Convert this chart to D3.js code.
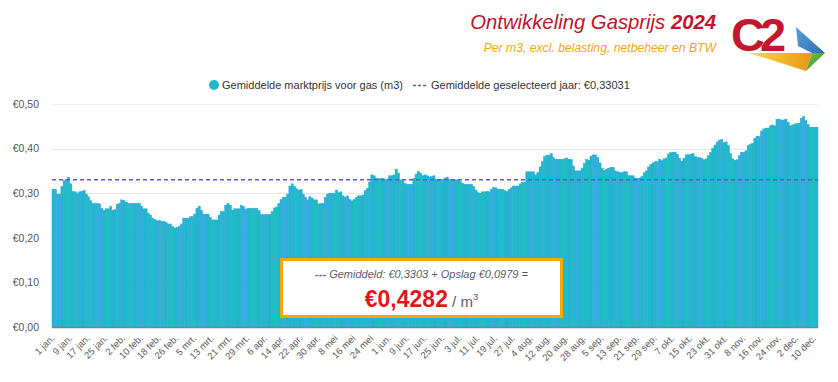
<!DOCTYPE html>
<html>
<head>
<meta charset="utf-8">
<script src="https://cdn.jsdelivr.net/npm/d3@7"></script>
<style>
  html, body { margin: 0; padding: 0; background: #ffffff; }
  svg { display: block; }
  text { font-family: "Liberation Sans", Arial, sans-serif; }
</style>
</head>
<body>
<svg id="chart" width="838" height="382"></svg>
<script>
// ---------- DATA ----------
const seriesName = "Gemiddelde marktprijs voor gas (m3)";
const averageName = "Gemiddelde geselecteerd jaar: €0,33031";
const averageValue = 0.33031;

// daily average market price for gas (€/m3), 1 jan – 11 dec 2024
const prices = [
  0.309,0.309,0.298,0.298,0.315,0.328,0.331,0.336,0.321,0.304,
  0.303,0.300,0.303,0.304,0.306,0.298,0.292,0.283,0.277,0.277,
  0.277,0.276,0.266,0.261,0.265,0.265,0.270,0.262,0.263,0.275,
  0.277,0.285,0.284,0.280,0.277,0.277,0.277,0.277,0.277,0.277,
  0.271,0.265,0.265,0.255,0.251,0.244,0.241,0.238,0.239,0.237,
  0.237,0.234,0.231,0.231,0.225,0.222,0.223,0.226,0.231,0.244,
  0.244,0.244,0.247,0.248,0.253,0.266,0.271,0.261,0.253,0.253,
  0.253,0.246,0.240,0.240,0.240,0.251,0.259,0.259,0.273,0.277,
  0.273,0.262,0.265,0.265,0.265,0.273,0.270,0.264,0.266,0.266,
  0.266,0.266,0.266,0.261,0.252,0.252,0.252,0.252,0.253,0.259,
  0.267,0.269,0.277,0.286,0.291,0.291,0.298,0.316,0.321,0.315,
  0.310,0.307,0.308,0.298,0.291,0.285,0.292,0.289,0.285,0.285,
  0.276,0.277,0.277,0.291,0.298,0.300,0.300,0.300,0.307,0.301,
  0.303,0.294,0.291,0.294,0.286,0.283,0.286,0.291,0.294,0.294,
  0.296,0.306,0.311,0.325,0.341,0.339,0.333,0.333,0.333,0.333,
  0.330,0.332,0.339,0.339,0.341,0.354,0.345,0.330,0.328,0.322,
  0.320,0.320,0.320,0.333,0.343,0.349,0.345,0.339,0.341,0.339,
  0.336,0.337,0.339,0.331,0.330,0.330,0.331,0.334,0.336,0.331,
  0.330,0.330,0.330,0.330,0.326,0.322,0.320,0.320,0.320,0.320,
  0.315,0.307,0.301,0.300,0.303,0.303,0.304,0.303,0.309,0.313,
  0.312,0.309,0.309,0.309,0.306,0.304,0.309,0.312,0.316,0.316,
  0.316,0.321,0.325,0.325,0.348,0.348,0.348,0.348,0.341,0.346,
  0.359,0.371,0.382,0.385,0.385,0.389,0.380,0.376,0.376,0.376,
  0.376,0.377,0.379,0.376,0.376,0.361,0.350,0.350,0.350,0.356,
  0.367,0.376,0.374,0.383,0.386,0.386,0.380,0.368,0.356,0.351,
  0.354,0.356,0.358,0.358,0.350,0.348,0.346,0.346,0.348,0.348,
  0.340,0.339,0.339,0.334,0.333,0.334,0.337,0.346,0.350,0.359,
  0.364,0.368,0.371,0.371,0.376,0.373,0.377,0.379,0.388,0.391,
  0.392,0.392,0.387,0.378,0.372,0.378,0.386,0.386,0.387,0.389,
  0.382,0.380,0.380,0.378,0.375,0.377,0.384,0.391,0.401,0.408,
  0.415,0.419,0.420,0.414,0.415,0.407,0.389,0.377,0.374,0.375,
  0.384,0.392,0.391,0.395,0.407,0.410,0.412,0.423,0.428,0.427,
  0.439,0.444,0.446,0.446,0.451,0.453,0.451,0.466,0.466,0.464,
  0.464,0.466,0.459,0.451,0.453,0.455,0.456,0.457,0.468,0.472,
  0.463,0.454,0.448,0.448,0.448,0.448
];

const xTickLabels = [
  "1 jan.","9 jan.","17 jan.","25 jan.","2 feb.","10 feb.","18 feb.","26 feb.",
  "5 mrt.","13 mrt.","21 mrt.","29 mrt.","6 apr.","14 apr.","22 apr.","30 apr.",
  "8 mei","16 mei","24 mei","1 jun.","9 jun.","17 jun.","25 jun.","3 jul.",
  "11 jul.","19 jul.","27 jul.","4 aug.","12 aug.","20 aug.","28 aug.","5 sep.",
  "13 sep.","21 sep.","29 sep.","7 okt.","15 okt.","23 okt.","31 okt.","8 nov.",
  "16 nov.","24 nov.","2 dec.","10 dec."
];
const xTickStep = 8;

const yTickValues = [0, 0.1, 0.2, 0.3, 0.4, 0.5];
const yTickLabels = ["€0,00","€0,10","€0,20","€0,30","€0,40","€0,50"];

const titleMain = "Ontwikkeling Gasprijs ";
const titleYear = "2024";
const subtitle = "Per m3, excl. belasting, netbeheer en BTW";
const boxLine1 = "Gemiddeld: €0,3303 + Opslag €0,0979 =";
const boxTotal = "€0,4282";
const boxUnit = " / m";

// ---------- LAYOUT ----------
const svg = d3.select("#chart");
const plot = { left: 52, right: 818, top: 104, bottom: 327 };

const days = d3.range(prices.length);
const x = d3.scaleBand().domain(days).range([plot.left, plot.right]).padding(0);
const y = d3.scaleLinear().domain([0, 0.5]).range([plot.bottom, plot.top]);

const barFill = "#23b8c7";
const barEdge = "#2aa8df";
const avgColor = "#5a5ad2";

// ---------- GRID ----------
svg.append("g")
  .selectAll("line")
  .data(yTickValues.filter(v => v > 0))
  .join("line")
  .attr("x1", plot.left).attr("x2", plot.right)
  .attr("y1", d => Math.round(y(d)) + 0.5).attr("y2", d => Math.round(y(d)) + 0.5)
  .attr("stroke", (d) => d === 0.5 ? "#f0f0f0" : "#e6e6e6")
  .attr("stroke-width", 1);

// ---------- BARS ----------
svg.append("g")
  .selectAll("rect")
  .data(prices)
  .join("rect")
  .attr("x", (d, i) => x(i))
  .attr("width", x.bandwidth())
  .attr("y", d => y(d))
  .attr("height", d => y(0) - y(d))
  .attr("fill", barFill)
  .attr("stroke", barEdge)
  .attr("stroke-width", 0.5);

// ---------- AVERAGE LINE ----------
svg.append("line")
  .attr("x1", plot.left).attr("x2", plot.right)
  .attr("y1", y(averageValue)).attr("y2", y(averageValue))
  .attr("stroke", avgColor)
  .attr("stroke-width", 1.6)
  .attr("stroke-dasharray", "4,3");

// ---------- AXES ----------
svg.append("line")
  .attr("x1", plot.left).attr("x2", plot.right)
  .attr("y1", plot.bottom + 0.5).attr("y2", plot.bottom + 0.5)
  .attr("stroke", "#7f7f7f").attr("stroke-width", 1.5);

const tickIdx = xTickLabels.map((_, k) => k * xTickStep);
const xAxis = d3.axisBottom(x)
  .tickValues(tickIdx)
  .tickSize(0)
  .tickFormat((d) => xTickLabels[d / xTickStep]);
const gx = svg.append("g")
  .attr("transform", `translate(0,${plot.bottom})`)
  .call(xAxis);
gx.select(".domain").remove();
gx.selectAll("text")
  .attr("font-size", "9.5px")
  .attr("fill", "#5a5a5a")
  .attr("text-anchor", "end")
  .attr("dx", 0).attr("dy", 0)
  .attr("y", 0)
  .attr("transform", "translate(2,12) rotate(-45)");

const yAxis = d3.axisLeft(y)
  .tickValues(yTickValues)
  .tickSize(0)
  .tickFormat((d, i) => yTickLabels[i]);
const gy = svg.append("g")
  .attr("transform", `translate(${plot.left - 13},0)`)
  .call(yAxis);
gy.select(".domain").remove();
gy.selectAll("text")
  .attr("font-size", "10.5px")
  .attr("fill", "#555")
  .attr("x", 0);

// ---------- LEGEND ----------
const lg = svg.append("g").attr("font-size", "11px").attr("fill", "#333");
lg.append("circle").attr("cx", 214).attr("cy", 85).attr("r", 5).attr("fill", barFill);
lg.append("text").attr("x", 222).attr("y", 89).text(seriesName);
lg.append("line").attr("x1", 413).attr("x2", 428).attr("y1", 85.5).attr("y2", 85.5)
  .attr("stroke", avgColor).attr("stroke-width", 1.6).attr("stroke-dasharray", "3,2");
lg.append("text").attr("x", 431).attr("y", 89).text(averageName);

// ---------- TITLE ----------
const t = svg.append("text")
  .attr("x", 716).attr("y", 29)
  .attr("text-anchor", "end")
  .attr("font-size", "20.3px")
  .attr("font-style", "italic")
  .attr("fill", "#c3132f");
t.append("tspan").text(titleMain);
t.append("tspan").attr("font-weight", "bold").text(titleYear);

svg.append("text")
  .attr("x", 716).attr("y", 52)
  .attr("text-anchor", "end")
  .attr("font-size", "12.2px")
  .attr("font-style", "italic")
  .attr("fill", "#f2a80c")
  .text(subtitle);

// ---------- LOGO ----------
const defs = svg.append("defs");
const gY = defs.append("linearGradient").attr("id", "gy").attr("x1", "0").attr("x2", "1").attr("y1", "0").attr("y2", "0");
gY.append("stop").attr("offset", "0%").attr("stop-color", "#f6e03a");
gY.append("stop").attr("offset", "100%").attr("stop-color", "#e8961a");
const gB = defs.append("linearGradient").attr("id", "gb").attr("x1", "0").attr("x2", "1").attr("y1", "0").attr("y2", "1");
gB.append("stop").attr("offset", "0%").attr("stop-color", "#5aa0d8");
gB.append("stop").attr("offset", "100%").attr("stop-color", "#2f6fae");
const gG = defs.append("linearGradient").attr("id", "gg").attr("x1", "0").attr("x2", "1").attr("y1", "0").attr("y2", "1");
gG.append("stop").attr("offset", "0%").attr("stop-color", "#7cc242");
gG.append("stop").attr("offset", "100%").attr("stop-color", "#2e8a3a");

const logo = svg.append("g");
logo.append("path").attr("d", "M749,53 L812,53 L806,71 Z").attr("fill", "url(#gy)");
logo.append("path").attr("d", "M796,27 L825,53 L812,53 L798,46 Z").attr("fill", "url(#gb)");
logo.append("path").attr("d", "M812,53 L825,53 L806,71 Z").attr("fill", "url(#gg)");
logo.append("text")
  .attr("x", 731).attr("y", 51)
  .attr("font-family", "'DejaVu Sans', sans-serif")
  .attr("font-weight", "bold")
  .attr("font-size", "47px")
  .attr("letter-spacing", "-5")
  .attr("fill", "#c1172f")
  .text("C2");

// ---------- ANNOTATION BOX ----------
const box = svg.append("g");
box.append("rect")
  .attr("x", 281.5).attr("y", 259.5).attr("width", 280).attr("height", 57)
  .attr("fill", "#ffffff")
  .attr("stroke", "#f5a800").attr("stroke-width", 3);
const cx = 421.5;
const l1 = box.append("text")
  .attr("x", cx).attr("y", 278)
  .attr("text-anchor", "middle")
  .attr("font-size", "11px")
  .attr("font-style", "italic")
  .attr("fill", "#5a5a6a");
l1.append("tspan").attr("fill", avgColor).attr("font-style", "normal").attr("font-weight", "bold").text("--- ");
l1.append("tspan").text(boxLine1);
const l2 = box.append("text")
  .attr("x", cx).attr("y", 307)
  .attr("text-anchor", "middle");
l2.append("tspan").attr("font-size", "23px").attr("font-weight", "bold").attr("fill", "#e8141c").text(boxTotal);
l2.append("tspan").attr("font-size", "15px").attr("fill", "#5a5a6a").text(boxUnit);
l2.append("tspan").attr("font-size", "9.5px").attr("fill", "#5a5a6a").attr("dy", -7).text("3");
</script>
</body>
</html>
